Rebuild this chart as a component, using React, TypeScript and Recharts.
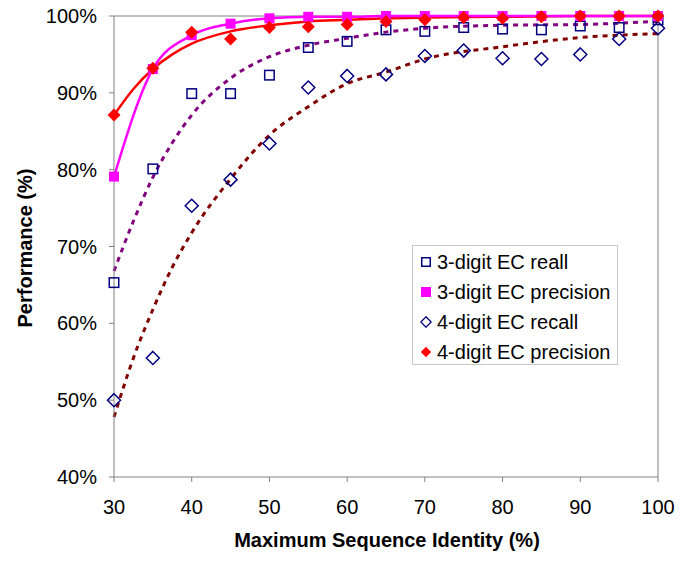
import React from "react";
import {
  ComposedChart,
  Line,
  Scatter,
  XAxis,
  YAxis,
  ReferenceLine,
} from "recharts";

const FONT = '"Liberation Sans", Arial, sans-serif';
const AXIS = "#808080";
const NAVY = "#000080";
const MAGENTA = "#ff00ff";
const RED = "#ff0000";
const PURPLE = "#800080";
const MAROON = "#800000";

// maximum sequence identity (%)
const identity = [30, 35, 40, 45, 50, 55, 60, 65, 70, 75, 80, 85, 90, 95, 100];

const recall3 = [65.3, 80.1, 89.9, 89.9, 92.3, 95.9, 96.7, 98.2, 98.0, 98.5, 98.3, 98.2, 98.7, 98.5, 99.5];
const precision3 = [79.1, 93.1, 97.5, 99.0, 99.7, 99.9, 99.9, 100, 100, 100, 100, 100, 100, 100, 100];
const recall4 = [50.0, 55.5, 75.3, 78.7, 83.4, 90.7, 92.2, 92.4, 94.8, 95.5, 94.5, 94.4, 95.0, 97.0, 98.4];
const precision4 = [87.1, 93.2, 97.9, 97.0, 98.5, 98.6, 98.9, 99.3, 99.5, 99.8, 99.7, 99.9, 100, 100, 100];

// trend lines
const trendX = [30, 32.5, 35, 37.5, 40, 45, 50, 55, 60, 65, 70, 80, 90, 100];
const trendRecall3 = [66.8, 73.3, 79.0, 83.5, 87.1, 91.9, 94.7, 96.2, 97.1, 97.9, 98.4, 98.8, 98.9, 99.3];
const trendRecall4 = [47.8, 55.5, 61.8, 67.3, 71.8, 78.8, 84.5, 88.2, 91.2, 92.7, 94.4, 96.0, 97.2, 97.7];
const trendPrecision4 = [87.1, 90.5, 93.1, 95.0, 96.4, 98.0, 98.8, 99.3, 99.5, 99.7, 99.8, 99.9, 100, 100];

const xTicks = [30, 40, 50, 60, 70, 80, 90, 100];
const yTicks = [40, 50, 60, 70, 80, 90, 100];

const legendItems = [
  { label: "3-digit EC reall", kind: "square", filled: false, color: NAVY },
  { label: "3-digit EC precision", kind: "square", filled: true, color: MAGENTA },
  { label: "4-digit EC recall", kind: "diamond", filled: false, color: NAVY },
  { label: "4-digit EC precision", kind: "diamond", filled: true, color: RED },
];

type Pt = { x: number; y: number };
const zip = (xs: number[], ys: number[]): Pt[] => xs.map((x, i) => ({ x, y: ys[i] }));

function square(color: string, filled: boolean) {
  return (props: any) => {
    const { cx, cy } = props;
    const s = filled ? 10 : 9.5;
    return (
      <rect
        x={cx - s / 2}
        y={cy - s / 2}
        width={s}
        height={s}
        fill={filled ? color : "none"}
        stroke={color}
        strokeWidth={filled ? 0 : 1.5}
      />
    );
  };
}

function diamond(color: string, filled: boolean) {
  return (props: any) => {
    const { cx, cy } = props;
    const r = 6.5;
    return (
      <path
        d={`M${cx},${cy - r}L${cx + r},${cy}L${cx},${cy + r}L${cx - r},${cy}Z`}
        fill={filled ? color : "none"}
        stroke={color}
        strokeWidth={filled ? 0 : 1.5}
      />
    );
  };
}

function LegendIcon({ kind, filled, color }: { kind: string; filled: boolean; color: string }) {
  return (
    <svg width={12} height={12} style={{ display: "block" }}>
      {kind === "square" ? (
        <rect
          x={filled ? 1 : 1.75}
          y={filled ? 1 : 1.75}
          width={filled ? 10 : 8.5}
          height={filled ? 10 : 8.5}
          fill={filled ? color : "none"}
          stroke={color}
          strokeWidth={filled ? 0 : 1.5}
        />
      ) : (
        <path
          d="M6,0.8L11.2,6L6,11.2L0.8,6Z"
          fill={filled ? color : "none"}
          stroke={color}
          strokeWidth={filled ? 0 : 1.3}
        />
      )}
    </svg>
  );
}

export default function App() {
  return (
    <div style={{ position: "absolute", left: 0, top: 0, width: 685, height: 561, background: "#fff", fontFamily: FONT }}>
      <ComposedChart width={685} height={561} margin={{ top: 16, right: 27, bottom: 0, left: 0 }}>
        <XAxis
          type="number"
          dataKey="x"
          domain={[30, 100]}
          ticks={xTicks}
          height={84}
          stroke={AXIS}
          tickSize={5}
          tickMargin={18}
          tick={{ fontSize: 20, fill: "#000", fontFamily: FONT }}
          label={{
            content: () => (
              <text x={387} y={547} textAnchor="middle" fontSize={20} fontWeight="bold" fontFamily={FONT} fill="#000">
                Maximum Sequence Identity (%)
              </text>
            ),
          }}
        />
        <YAxis
          type="number"
          domain={[40, 100]}
          ticks={yTicks}
          width={114}
          stroke={AXIS}
          tickSize={5}
          tickMargin={12}
          tickFormatter={(v: number) => `${v}%`}
          tick={{ fontSize: 20, fill: "#000", fontFamily: FONT }}
          label={{
            content: () => (
              <text
                x={27}
                y={248}
                transform="rotate(-90 27 248)"
                textAnchor="middle"
                dominantBaseline="middle"
                fontSize={20}
                fontWeight="bold"
                fontFamily={FONT}
                fill="#000"
              >
                Performance (%)
              </text>
            ),
          }}
        />
        <ReferenceLine y={100} stroke={AXIS} strokeWidth={1} />
        <ReferenceLine x={100} stroke={AXIS} strokeWidth={1} />

        <Line data={zip(trendX, trendRecall4)} dataKey="y" type="monotone" stroke={MAROON} strokeWidth={3} strokeDasharray="5 5" dot={false} isAnimationActive={false} />
        <Line data={zip(trendX, trendRecall3)} dataKey="y" type="monotone" stroke={PURPLE} strokeWidth={3} strokeDasharray="5 5" dot={false} isAnimationActive={false} />
        <Line data={zip(trendX, trendPrecision4)} dataKey="y" type="monotone" stroke={RED} strokeWidth={2.5} dot={false} isAnimationActive={false} />
        <Line data={zip(identity, precision3)} dataKey="y" type="monotone" stroke={MAGENTA} strokeWidth={2.5} dot={false} isAnimationActive={false} />

        <Scatter data={zip(identity, recall3)} dataKey="y" shape={square(NAVY, false)} isAnimationActive={false} />
        <Scatter data={zip(identity, recall4)} dataKey="y" shape={diamond(NAVY, false)} isAnimationActive={false} />
        <Scatter data={zip(identity, precision3)} dataKey="y" shape={square(MAGENTA, true)} isAnimationActive={false} />
        <Scatter data={zip(identity, precision4)} dataKey="y" shape={diamond(RED, true)} isAnimationActive={false} />
      </ComposedChart>

      <div
        style={{
          position: "absolute",
          left: 412,
          top: 245,
          width: 206,
          height: 120,
          border: "1px solid #c8c8c8",
          background: "#fff",
          boxSizing: "border-box",
          paddingTop: 1,
        }}
      >
        {legendItems.map((it) => (
          <div key={it.label} style={{ display: "flex", alignItems: "center", height: 30, paddingLeft: 7 }}>
            <LegendIcon kind={it.kind} filled={it.filled} color={it.color} />
            <span style={{ marginLeft: 5, fontSize: 20, color: "#000", whiteSpace: "nowrap", lineHeight: "30px" }}>{it.label}</span>
          </div>
        ))}
      </div>
    </div>
  );
}
